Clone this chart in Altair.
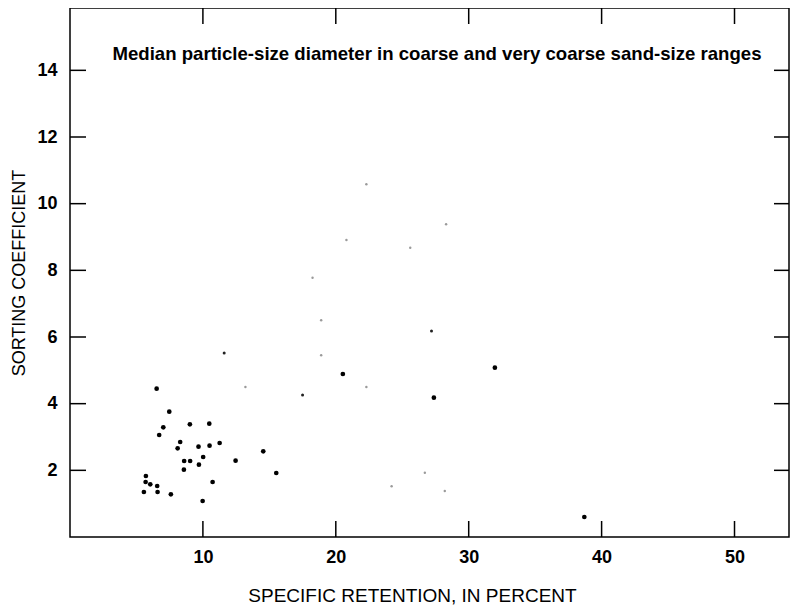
import altair as alt
import pandas as pd

# Solid (filled) data points
solid_x = [6.52, 7.47, 7.02, 6.71, 9.02, 10.48, 8.29, 8.10, 9.67, 10.50, 11.26,
           8.59, 9.04, 10.02, 8.57, 9.70, 12.46, 14.54, 15.52, 5.71, 5.69, 6.04,
           6.56, 5.56, 6.59, 7.59, 10.73, 9.98, 20.53, 31.97, 27.38, 38.7]
solid_y = [4.45, 3.76, 3.29, 3.06, 3.38, 3.40, 2.85, 2.66, 2.71, 2.74, 2.82,
           2.28, 2.28, 2.40, 2.02, 2.17, 2.29, 2.57, 1.92, 1.83, 1.65, 1.58,
           1.53, 1.35, 1.35, 1.28, 1.65, 1.08, 4.89, 5.08, 4.18, 0.6]

# Small dark marks
small_x = [11.6, 17.5, 27.2]
small_y = [5.52, 4.26, 6.18]

# Faint (poorly printed) marks
faint_x = [22.3, 28.3, 20.8, 25.6, 18.25, 18.9, 18.9, 22.3, 13.2, 26.7, 24.2, 28.2]
faint_y = [10.58, 9.38, 8.91, 8.68, 7.78, 6.5, 5.45, 4.5, 4.5, 1.93, 1.52, 1.38]

x_ticks = [10, 20, 30, 40, 50]
y_ticks = [2, 4, 6, 8, 10, 12, 14]

inner_title = "Median particle-size diameter in coarse and very coarse sand-size ranges"
x_title = "SPECIFIC RETENTION, IN PERCENT"
y_title = "SORTING COEFFICIENT"

W, H = 719, 529
FONT = "Liberation Sans"

xscale = alt.Scale(domain=[0, 54.1], nice=False, zero=False)
yscale = alt.Scale(domain=[0, 15.87], nice=False, zero=False)

solid_df = pd.DataFrame({"x": solid_x, "y": solid_y})
small_df = pd.DataFrame({"x": small_x, "y": small_y})
faint_df = pd.DataFrame({"x": faint_x, "y": faint_y})
xt_df = pd.DataFrame({"x": x_ticks})
yt_df = pd.DataFrame({"y": y_ticks})
title_df = pd.DataFrame({"t": [inner_title]})

x_axis = alt.Axis(values=x_ticks, ticks=False, domain=False, grid=False,
                  labelFont=FONT, labelFontSize=18, labelFontWeight="bold",
                  labelColor="black", labelPadding=11, title=x_title,
                  titleFont=FONT, titleFontSize=19, titleFontWeight="normal",
                  titleColor="black", titlePadding=20, titleX=342)
y_axis = alt.Axis(values=y_ticks, ticks=False, domain=False, grid=False,
                  labelFont=FONT, labelFontSize=18, labelFontWeight="bold",
                  labelColor="black", labelPadding=13, title=y_title,
                  titleFont=FONT, titleFontSize=18, titleFontWeight="normal",
                  titleColor="black", titlePadding=8)

X = alt.X("x:Q", scale=xscale, axis=x_axis)
Y = alt.Y("y:Q", scale=yscale, axis=y_axis)

points = alt.Chart(solid_df).mark_circle(size=22, color="black", opacity=1).encode(x=X, y=Y)
small = alt.Chart(small_df).mark_circle(size=9, color="#222222", opacity=1).encode(x=X, y=Y)
faint = alt.Chart(faint_df).mark_circle(size=6, color="#9a9a9a", opacity=1).encode(x=X, y=Y)

tick_style = dict(color="black", strokeWidth=1.5)
xt_bottom = alt.Chart(xt_df).mark_rule(**tick_style).encode(
    x=X, y=alt.value(H), y2=alt.value(H - 16))
xt_top = alt.Chart(xt_df).mark_rule(**tick_style).encode(
    x=X, y=alt.value(0), y2=alt.value(16))
yt_left = alt.Chart(yt_df).mark_rule(**tick_style).encode(
    y=Y, x=alt.value(0), x2=alt.value(16))
yt_right = alt.Chart(yt_df).mark_rule(**tick_style).encode(
    y=Y, x=alt.value(W - 15), x2=alt.value(W))

title_text = alt.Chart(title_df).mark_text(
    font=FONT, fontSize=18.6, fontWeight="bold", color="black",
    align="center", baseline="middle").encode(
    text="t:N", x=alt.value(367), y=alt.value(46))

chart = alt.layer(
    points, small, faint, xt_bottom, xt_top, yt_left, yt_right, title_text
).properties(
    width=W, height=H,
    autosize=alt.AutoSizeParams(type="none"),
    padding={"left": 62, "top": 0, "right": 2, "bottom": 68},
    background="white",
).configure_view(
    stroke="black", strokeWidth=1.5
)

chart.save("out.html", embed_options={"renderer": "svg", "actions": False})
